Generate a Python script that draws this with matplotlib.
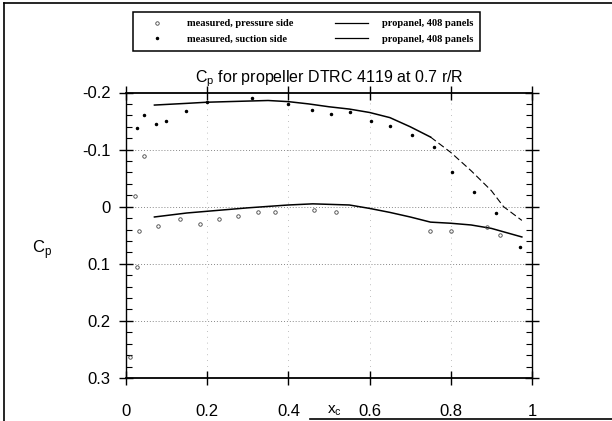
import matplotlib
matplotlib.use("Agg")
import matplotlib.pyplot as plt
from matplotlib.lines import Line2D
import numpy as np

# computed (propanel, 408 panels)
calc_suction_x = [0.07, 0.15, 0.20, 0.30, 0.35, 0.40, 0.45, 0.50, 0.55, 0.60, 0.65, 0.70, 0.75, 0.80, 0.85, 0.90, 0.93, 0.975]
calc_suction_cp = [-0.178, -0.181, -0.183, -0.185, -0.186, -0.184, -0.180, -0.175, -0.171, -0.165, -0.156, -0.140, -0.122, -0.095, -0.063, -0.028, 0.000, 0.024]
calc_pressure_x = [0.07, 0.15, 0.20, 0.30, 0.40, 0.46, 0.55, 0.60, 0.65, 0.70, 0.75, 0.80, 0.85, 0.90, 0.975]
calc_pressure_cp = [0.018, 0.011, 0.008, 0.002, -0.003, -0.005, -0.003, 0.003, 0.010, 0.018, 0.027, 0.029, 0.032, 0.038, 0.053]

# measured
meas_suction_x = [0.026, 0.045, 0.074, 0.098, 0.149, 0.199, 0.31, 0.40, 0.457, 0.505, 0.552, 0.603, 0.65, 0.705, 0.759, 0.804, 0.857, 0.911, 0.97]
meas_suction_cp = [-0.137, -0.160, -0.145, -0.150, -0.167, -0.183, -0.190, -0.180, -0.170, -0.162, -0.165, -0.150, -0.142, -0.126, -0.105, -0.061, -0.026, 0.011, 0.070]
meas_pressure_x = [0.010, 0.021, 0.028, 0.033, 0.045, 0.079, 0.132, 0.182, 0.228, 0.276, 0.324, 0.368, 0.464, 0.517, 0.748, 0.80, 0.89, 0.92]
meas_pressure_cp = [0.264, -0.018, 0.105, 0.043, -0.088, 0.034, 0.022, 0.031, 0.022, 0.016, 0.010, 0.010, 0.006, 0.010, 0.043, 0.043, 0.036, 0.049]

x_ticks = [0, 0.2, 0.4, 0.6, 0.8, 1]
x_ticklabels = ["0", "0.2", "0.4", "0.6", "0.8", "1"]
y_ticks = [-0.2, -0.1, 0, 0.1, 0.2, 0.3]
y_ticklabels = ["-0.2", "-0.1", "0", "0.1", "0.2", "0.3"]

fig = plt.figure(figsize=(6.12, 4.21), dpi=100)
plt.rcParams['font.family'] = ['Liberation Sans', 'DejaVu Sans']
ax = fig.add_axes([126/612, 1-378/421, (532-126)/612, (378-92.5)/421])

ax.set_xlim(0, 1)
ax.set_ylim(0.3, -0.2)

# grid
for gy in [-0.1, 0, 0.1, 0.2]:
    ax.axhline(gy, color='#888888', lw=0.7, ls=(0, (1, 2)), zorder=1)
for gx in [0.2, 0.4, 0.6, 0.8]:
    ax.axvline(gx, color='#aaaaaa', lw=0.6, ls=(0, (1, 6)), zorder=1)

# computed lines
split = 12
ax.plot(calc_suction_x[:split + 1], calc_suction_cp[:split + 1], color='black', lw=1.1, zorder=3)
ax.plot(calc_suction_x[split:], calc_suction_cp[split:], color='black', lw=0.8, ls=(0, (6, 3)), zorder=3)
ax.plot(calc_pressure_x, calc_pressure_cp, color='black', lw=1.1, zorder=3)

# measured points
ax.plot(meas_suction_x, meas_suction_cp, ls='none', marker='.', ms=3, color='black', zorder=4)
ax.plot(meas_pressure_x, meas_pressure_cp, ls='none', marker='o', ms=2.5, mfc='none', mec='#444444', mew=0.6, zorder=4)

ax.set_xticks(x_ticks)
ax.set_xticklabels(x_ticklabels)
ax.set_yticks(y_ticks)
ax.set_yticklabels(y_ticklabels)
ax.set_yticks(np.arange(-0.2, 0.3001, 0.02), minor=True)
ax.tick_params(axis='both', which='major', direction='inout', length=10, width=1.0,
               top=True, right=True, labelsize=12, pad=6)
ax.tick_params(axis='y', which='minor', direction='in', length=4, width=0.8, left=True, right=True)
ax.tick_params(axis='x', pad=14)
for s in ax.spines.values():
    s.set_linewidth(1.3)
ax.spines['left'].set_linewidth(1.0)
ax.spines['right'].set_linewidth(1.0)

ax.set_title(r"C$_\mathregular{p}$ for propeller DTRC 4119 at 0.7 r/R", fontsize=11.5, pad=7)
fig.text(42/612, 1-250/421, r"C$_\mathregular{p}$", fontsize=12, ha='center', va='center')
fig.text(334/612, 1-411/421, r"x$_\mathregular{c}$", fontsize=11, ha='center', va='center')

# legend
handles = [
    Line2D([], [], ls='none', marker='o', ms=2.5, mfc='none', mec='#444444', mew=0.6),
    Line2D([], [], ls='none', marker='.', ms=3, color='black'),
    Line2D([], [], color='black', lw=0.9),
    Line2D([], [], color='black', lw=0.9),
]
labels = ["measured, pressure side", "measured, suction side",
          "propanel, 408 panels", "propanel, 408 panels"]
leg = fig.legend(handles, labels, ncol=2, loc='center',
                 bbox_to_anchor=((128+485)/2/612, 1-31.5/421),
                 prop={'family': 'Liberation Serif', 'size': 7.5, 'weight': 'bold'},
                 frameon=True, fancybox=False, edgecolor='black', framealpha=1,
                 columnspacing=4.0, handlelength=3.2, handletextpad=1.3,
                 borderpad=0.7, labelspacing=0.6)
leg.get_frame().set_linewidth(1.1)

# outer frame (scanned: left, top and partial bottom edges)
fig.add_artist(Line2D([4/612, 4/612], [0, 1-3/421], transform=fig.transFigure, color='black', lw=1.2))
fig.add_artist(Line2D([4/612, 1], [1-3/421, 1-3/421], transform=fig.transFigure, color='black', lw=1.2))
fig.add_artist(Line2D([310/612, 1], [2/421, 2/421], transform=fig.transFigure, color='black', lw=1.2))

fig.savefig("out.png", dpi=100)
